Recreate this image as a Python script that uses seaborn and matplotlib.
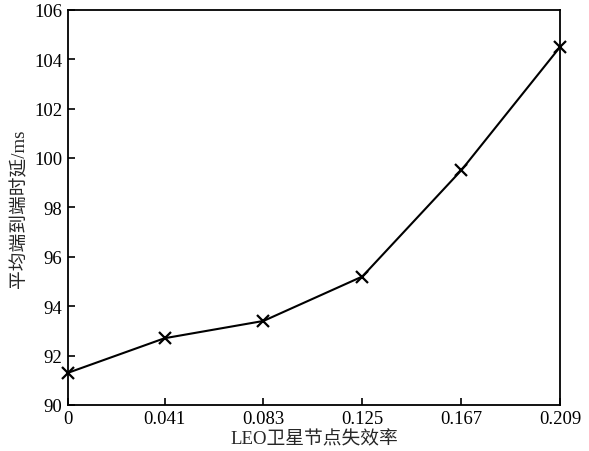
import matplotlib
matplotlib.use("Agg")
import matplotlib.pyplot as plt
import seaborn as sns
import pandas as pd

# data
failure_rate = [0, 0.041, 0.083, 0.125, 0.167, 0.209]
x_labels = ["0", "0.041", "0.083", "0.125", "0.167", "0.209"]
avg_delay = [91.3, 92.7, 93.4, 95.2, 99.5, 104.5]
y_ticks = [90, 92, 94, 96, 98, 100, 102, 104, 106]

sns.set_style("white")
plt.rcParams["font.family"] = ["Liberation Serif", "Noto Sans CJK SC"]
plt.rcParams["font.size"] = 13.5

df = pd.DataFrame({"rate": failure_rate, "delay": avg_delay})

fig = plt.figure(figsize=(5.89, 4.52), dpi=100)
ax = fig.add_axes([0.1155, 0.102, 0.8355, 0.874])

sns.lineplot(data=df, x="rate", y="delay", ax=ax, color="black",
             marker="x", markersize=8, markeredgewidth=1.6,
             markeredgecolor="black", linewidth=1.5, clip_on=False, zorder=5)

ax.set_xlim(0, 0.209)
ax.set_ylim(90, 106)
ax.set_xticks(failure_rate)
ax.set_xticklabels(x_labels)
ax.set_yticks(y_ticks)

for s in ax.spines.values():
    s.set_color("black")
    s.set_linewidth(1.3)

ax.tick_params(axis="both", direction="in", length=5, width=1.2,
               color="black", labelcolor="black", labelsize=13.5, pad=4)
ax.tick_params(top=False, right=False, bottom=True, left=True)

ax.set_xlabel("LEO卫星节点失效率", fontsize=13.5, labelpad=2,
              family=["Liberation Serif", "Noto Sans CJK SC"])
ax.set_ylabel("平均端到端时延/ms", fontsize=13.5, labelpad=4,
              family=["Liberation Serif", "Noto Sans CJK SC"])

fig.savefig("out.png", dpi=100)
